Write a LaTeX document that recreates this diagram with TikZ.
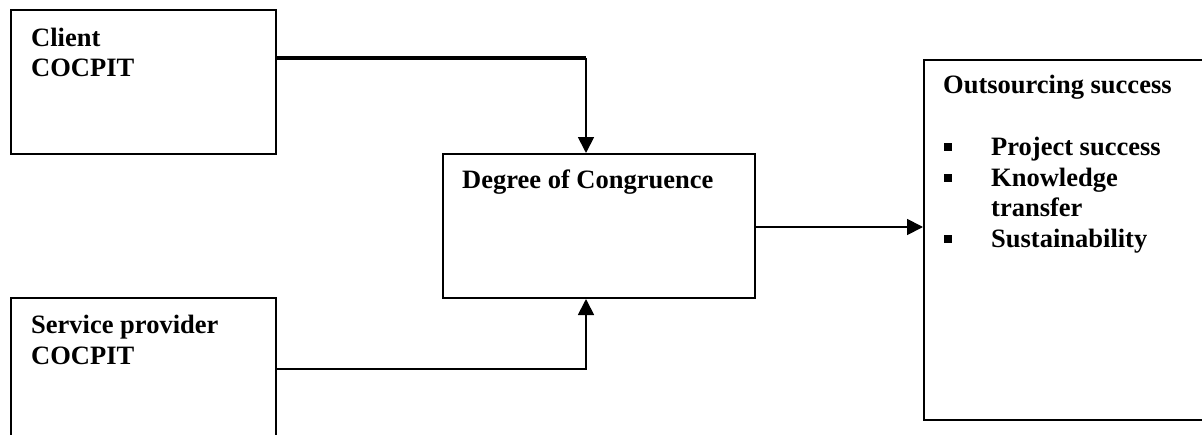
\documentclass[tikz,border=0pt]{standalone}
\usepackage{fontspec}
\setmainfont{Liberation Serif}
\usetikzlibrary{arrows.meta}

\tikzset{
  box/.style={draw=black, line width=2pt, rectangle, inner sep=0pt, anchor=north west},
  label/.style={anchor=base west, inner sep=0pt, font=\fontsize{26.5}{30.5}\selectfont\bfseries, align=left},
  link/.style={line width=1.8pt, -{Triangle[length=16pt,width=16pt]}},
  heavy/.style={line width=3.6pt},
  bullet/.style={fill=black, rectangle, minimum size=8pt, inner sep=0pt}
}

\begin{document}
\begin{tikzpicture}[x=1pt, y=-1pt]
  \useasboundingbox (0,0) rectangle (1202,434);
  \clip (0,0) rectangle (1202,434);
  \fill[white] (0,0) rectangle (1202,434);

  % boxes
  \node[box, minimum width=265pt, minimum height=144pt] (client) at (10,9) {};
  \node[box, minimum width=265pt, minimum height=160pt] (provider) at (10,297) {};
  \node[box, minimum width=312pt, minimum height=144pt] (degree) at (442,153) {};
  \node[box, minimum width=300pt, minimum height=360pt] (outcome) at (923,59) {};

  % texts
  \node[label] (tclient) at (31,46) {Client};
  \node[label] (tclient2) at (31,76) {COCPIT};
  \node[label] (tprov) at (31,333) {Service provider};
  \node[label] (tprov2) at (31,364) {COCPIT};
  \node[label] (tdeg) at (462,188) {Degree of Congruence};
  \node[label] (tout) at (943,93) {Outsourcing success};
  \node[label] (i1) at (991,155) {Project success};
  \node[label] (i2) at (991,186) {Knowledge};
  \node[label] (i3) at (991,216) {transfer};
  \node[label] (i4) at (991,247) {Sustainability};
  \node[bullet] (b1) at (948,147) {};
  \node[bullet] (b2) at (948,177.5) {};
  \node[bullet] (b3) at (948,239) {};

  % connectors
  \coordinate (c1) at (586,58);
  \coordinate (c2) at (586,369);
  \coordinate (c3) at (923,227);
  \draw[heavy] (client.north east |- c1) -- (c1);
  \draw[link] (c1) -- (c1 |- degree.north);
  \draw[link] (provider.north east |- c2) -- (c2) -- (c2 |- degree.south);
  \draw[link] (degree.east |- c3) -- (outcome.west |- c3);
\end{tikzpicture}
\end{document}
